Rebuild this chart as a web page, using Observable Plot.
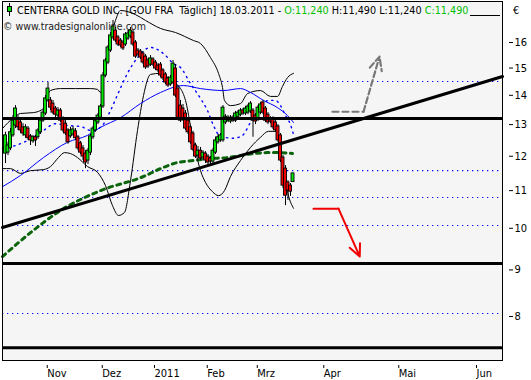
<!DOCTYPE html>
<html><head><meta charset="utf-8">
<script src="https://cdn.jsdelivr.net/npm/d3@7"></script>
<script src="https://cdn.jsdelivr.net/npm/@observablehq/plot@0.6"></script>
<style>body{margin:0;background:#fff}#chart{width:531px;height:380px}</style>
</head><body><div id="chart"></div>
<script>
// Daily bars (bar index 0..115), Centerra Gold, Frankfurt
const open = [12.08,12.11,12.24,12.65,12.97,13.20,13.07,12.91,12.65,12.87,12.62,12.46,12.59,12.59,12.75,13.13,13.37,13.82,
13.82,13.71,13.54,13.30,13.47,13.20,13.03,12.81,12.62,12.68,12.78,12.59,12.40,12.24,12.08,11.87,12.11,12.59,12.81,13.07,13.23,
13.61,14.72,15.21,15.68,16.21,16.49,16.21,16.08,16.00,15.92,16.16,16.25,16.41,16.00,15.68,15.64,15.56,15.44,15.29,15.13,
15.33,15.21,15.09,15.13,14.91,14.76,14.61,14.39,14.46,14.98,14.24,13.64,13.54,13.37,13.13,12.91,12.71,12.33,12.02,12.17,
11.96,
12.08,11.99,11.93,11.84,12.11,12.43,12.49,12.49,13.07,13.13,13.10,13.23,13.13,13.26,13.33,13.47,13.37,13.40,13.44,
13.47,13.30,13.16,13.40,13.75,13.54,13.33,13.20,13.20,13.07,12.94,12.65,11.96,11.63,11.23,11.14,11.24];
const close = [12.65,12.33,12.75,13.13,13.54,12.91,12.81,12.71,12.91,12.56,12.49,12.59,12.49,12.81,13.13,13.40,13.89,14.24,
13.57,13.40,13.33,13.47,13.13,12.81,12.71,12.43,12.81,12.84,12.56,12.24,12.11,11.99,11.81,12.17,12.62,12.87,13.13,13.30,13.61,
14.72,15.29,15.80,16.29,16.66,16.08,15.92,15.88,15.76,16.33,16.37,16.49,15.92,15.44,15.52,15.40,15.21,15.02,15.06,15.37,
15.13,14.98,14.91,14.72,14.61,14.46,14.35,14.64,15.17,13.99,13.23,13.13,13.20,12.87,12.75,12.43,12.20,11.99,12.17,11.93,
12.11,
11.87,11.81,11.84,12.17,12.49,12.59,12.65,13.57,13.26,13.23,13.23,13.13,13.37,13.40,13.47,13.37,13.54,13.61,13.71,
13.13,13.10,13.57,13.68,13.40,13.13,13.07,13.10,12.91,12.81,12.49,11.87,11.14,10.86,11.00,10.97,11.49];
const high = [12.75,12.43,12.87,13.30,13.64,13.30,13.20,13.03,13.00,12.94,12.68,12.65,12.65,12.87,13.20,13.47,13.99,14.46,
13.92,13.82,13.61,13.57,13.54,13.26,13.13,12.87,12.91,12.94,12.87,12.65,12.46,12.33,12.17,12.24,12.68,12.94,13.20,13.37,13.68,
14.83,15.37,15.88,16.41,16.92,16.62,16.29,16.16,16.08,16.41,16.49,16.62,16.53,16.08,15.76,15.72,15.64,15.52,15.37,15.48,
15.40,15.29,15.17,15.21,14.98,14.83,14.68,14.72,15.29,15.13,14.35,13.82,13.68,13.47,13.20,12.97,12.78,12.40,12.30,12.27,
12.17,
12.14,12.05,11.99,12.24,12.59,12.68,12.71,13.64,13.33,13.30,13.30,13.30,13.44,13.47,13.54,13.54,13.61,13.68,13.78,
13.54,13.37,13.64,13.75,13.82,13.61,13.40,13.26,13.26,13.13,13.00,12.71,12.02,11.72,11.28,11.20,11.49];
const low = [11.78,12.02,12.17,12.59,12.87,12.81,12.71,12.62,12.56,12.49,12.33,12.40,12.30,12.52,12.68,13.07,13.30,13.75,
13.47,13.33,13.23,13.20,13.07,12.75,12.65,12.37,12.56,12.62,12.49,12.17,12.05,11.87,11.63,11.75,12.02,12.52,12.75,13.00,13.16,
13.54,14.64,15.13,15.60,16.12,16.00,15.84,15.80,15.68,15.84,16.08,16.16,15.84,15.37,15.44,15.33,15.13,14.95,14.98,15.06,
15.06,14.91,14.83,14.64,14.53,14.39,14.28,14.32,14.39,13.92,13.13,13.07,13.10,12.81,12.68,12.37,12.14,11.93,11.96,11.87,
11.90,
11.78,11.72,11.75,11.78,12.05,12.37,12.43,12.43,13.00,13.07,13.03,13.07,13.07,13.20,13.26,13.30,13.30,13.33,13.37,
12.59,13.00,13.10,13.33,13.33,13.07,13.00,13.03,12.84,12.75,12.43,11.81,11.06,10.59,10.73,10.84,11.24];

// Indicators: [bar index, price]
const bbUpper = [[-1.2,12.87],[3.2,13.23],[6,13.37],[11.2,13.40],[15.2,13.54],[16.8,13.99],[18,14.17],[22,14.24],[28,14.24],[34,14.24],[36.8,14.21],[38,14.10],[40,15.09],[42,16.16],[44,16.92],[46,17.35],[52,17.17],[56,16.92],[62,16.58],[68,16.41],[75.2,16.08],[78,15.96],[82,15.40],[85.2,14.80],[86.8,14.28],[87.6,13.82],[90,13.64],[94,13.71],[96.8,14.06],[102,14.17],[106,13.96],[108.8,13.96],[110.8,14.32],[112.8,14.64],[115.2,14.80]];
const bbLower = [[-1.2,11.63],[2,11.63],[6,11.49],[10,11.57],[15.2,11.60],[18,11.69],[21.2,11.96],[23.6,12.11],[26,12.08],[28.8,11.96],[32.8,11.69],[36.8,11.52],[40,11.14],[42.8,10.59],[45.2,10.33],[47.6,10.41],[50,11.28],[52.8,12.81],[55.2,13.99],[58,14.76],[62,14.80],[66,14.53],[70,14.24],[72,13.82],[74,12.97],[76,12.17],[78,11.57],[80,11.23],[82.8,10.97],[85.2,10.86],[87.6,11.00],[90,11.40],[94,11.87],[98,12.27],[102,12.59],[105.2,12.78],[108,12.78],[110,12.17],[111.6,11.43],[113.2,10.86],[115.2,10.52]];
const bbMiddle = [[-1.2,12.24],[4,12.33],[11.2,12.59],[15.2,12.81],[20,13.03],[24.8,12.97],[30,12.94],[34,12.81],[38,12.91],[42,13.47],[45.2,14.10],[48.8,14.80],[52.8,15.40],[58,15.80],[63.2,15.56],[67.2,15.17],[70,15.02],[74,14.42],[78,13.89],[80.8,13.47],[83.2,12.97],[86,12.62],[91.2,12.56],[94.8,12.65],[98,13.07],[102,13.54],[105.2,13.82],[108,13.82],[110,13.64],[112,13.30],[114,13.00],[115.2,12.68]];
const maBlue = [[-1.2,11.11],[6,11.43],[15.2,11.96],[24.8,12.43],[32.8,12.65],[38,12.91],[46,13.23],[54,13.71],[62,14.10],[71.2,14.35],[78,14.24],[87.2,14.17],[94,14.24],[98,14.10],[103.2,13.82],[108.8,13.57],[112.8,13.30],[115.2,13.07]];
const maGreen = [[-1.2,9.31],[10,9.89],[22,10.46],[38,11.00],[55.2,11.40],[62,11.63],[68.8,11.81],[75.2,11.87],[82,11.93],[88.8,11.96],[94,12.02],[99.2,12.08],[104.8,12.11],[110,12.11],[114.8,12.08]];

// Analyst drawings
const dottedLevels = [14.50, 11.57, 10.81, 10.07, 8.06];
const solidLevels = [13.20, 9.15, 7.39];
const trendLine = [[-1.2,10.02],[198.8,14.68]];
const greyPath = [[130.8,13.43],[143.2,13.43]];
const greyArrow = [[143.2,13.43],[149.6,15.44]];
const redPath = [[123.2,10.51],[133.2,10.51]];
const redArrow = [[133.2,10.51],[141.7,9.31]];

// Axes
const yTicks = [8,9,10,11,12,13,14,15,16];
const xTickPos = [16.7,38.7,59.6,80.7,100.7,127.3,157.3,188.4];
const xTickLabels = ["Nov","Dez","2011","Feb","Mrz","Apr","Mai","Jun"];

const FONT = "'DejaVu Sans Condensed','DejaVu Sans',sans-serif";
const n = Math.min(open.length, close.length, high.length, low.length);
const candles = d3.range(n).map(i => ({i, o: open[i], h: high[i], l: low[i], c: close[i]}));
const pts = a => a.map(([x, y]) => ({x, y}));
const seg = a => [{x1: a[0][0], y1: a[0][1], x2: a[1][0], y2: a[1][1]}];

const chart = Plot.plot({
  width: 531, height: 380,
  marginLeft: 2, marginRight: 29, marginTop: 1, marginBottom: 20,
  style: {fontFamily: FONT, fontSize: "11px", background: "white", color: "black", overflow: "visible"},
  x: {domain: [-1.2, 198.8], axis: null},
  y: {type: "log", domain: [7.157, 17.75], axis: null},
  color: {type: "identity"},
  marks: [
    Plot.frame({fill: "#f5f5f5", stroke: null}),
    Plot.ruleY(dottedLevels, {stroke: "#0000ff", strokeWidth: 1.1, strokeDasharray: "1.3,3.7"}),
    Plot.line(pts(maGreen), {x: "x", y: "y", stroke: "#0b640b", strokeWidth: 3, strokeDasharray: "4,4.5", curve: "monotone-x"}),
    Plot.line(pts(bbUpper), {x: "x", y: "y", stroke: "black", strokeWidth: 1, curve: "monotone-x"}),
    Plot.line(pts(bbLower), {x: "x", y: "y", stroke: "black", strokeWidth: 1, curve: "monotone-x"}),
    Plot.line(pts(maBlue), {x: "x", y: "y", stroke: "#0000ff", strokeWidth: 1, curve: "monotone-x"}),
    Plot.line(pts(bbMiddle), {x: "x", y: "y", stroke: "#0000ff", strokeWidth: 1.4, strokeDasharray: "1.3,4.5", curve: "monotone-x"}),
    Plot.ruleX(candles, {x: "i", y1: "l", y2: "h", stroke: "black", strokeWidth: 1}),
    Plot.rect(candles, {x1: d => d.i - 0.6, x2: d => d.i + 0.6, y1: "o", y2: "c",
      fill: d => d.c >= d.o ? "#00e600" : "#f00000", stroke: "black", strokeWidth: 0.9}),
    Plot.ruleY(solidLevels, {stroke: "black", strokeWidth: 3}),
    Plot.line(pts(trendLine), {x: "x", y: "y", stroke: "black", strokeWidth: 3}),
    Plot.line(pts(greyPath), {x: "x", y: "y", stroke: "#777", strokeWidth: 2.2, strokeDasharray: "6,4"}),
    Plot.arrow(seg(greyArrow), {x1: "x1", y1: "y1", x2: "x2", y2: "y2", stroke: "#777", strokeWidth: 2.2, strokeDasharray: "6,3", headLength: 10, headAngle: 50}),
    Plot.line(pts(redPath), {x: "x", y: "y", stroke: "#f00000", strokeWidth: 2}),
    Plot.arrow(seg(redArrow), {x1: "x1", y1: "y1", x2: "x2", y2: "y2", stroke: "#f00000", strokeWidth: 2, headLength: 10, headAngle: 50}),
    Plot.frame({stroke: "black", strokeWidth: 1}),
    Plot.axisY(yTicks, {anchor: "right", tickSize: 4, dx: 6, tickPadding: 2, tickFormat: d => String(d)}),
    Plot.axisX(xTickPos, {anchor: "bottom", tickSize: 3, dy: 5, tickPadding: 1, textAnchor: "start",
      tickFormat: d => xTickLabels[xTickPos.indexOf(d)]})
  ]
});
document.getElementById("chart").appendChild(chart);

// Header texts drawn into the same SVG
const svg = d3.select(chart);
const g = svg.append("g").attr("font-family", FONT).attr("font-size", 11).attr("text-anchor", "start");
g.append("line").attr("x1", 9.5).attr("x2", 9.5).attr("y1", 3).attr("y2", 16).attr("stroke", "black");
g.append("rect").attr("x", 7.5).attr("y", 6.5).attr("width", 4).attr("height", 5).attr("fill", "#00e600").attr("stroke", "black");
const headerParts = [
  ["CENTERRA GOLD INC. [GOU FRA  Täglich] 18.03.2011 - ", "black"],
  ["O:11,240 ", "#00c000"],
  ["H:11,490 L:11,240 ", "black"],
  ["C:11,490", "#00c000"]
];
const ht = g.append("text").attr("style", "white-space:pre").attr("text-anchor", "start");
headerParts.forEach(([s, col]) => ht.append("tspan").attr("fill", col).text(s));
const hw = ht.node().getComputedTextLength();
ht.attr("transform", `translate(17,14) scale(${452 / hw},1)`);
g.append("line").attr("x1", 470).attr("x2", 500).attr("y1", 15.5).attr("y2", 15.5).attr("stroke", "black");
const ct = g.append("text").attr("fill", "#222").attr("text-anchor", "start").text("© www.tradesignalonline.com");
const cw = ct.node().getComputedTextLength();
ct.attr("transform", `translate(3,30) scale(${143 / cw},1)`);
g.append("text").attr("x", 513).attr("y", 14).attr("text-anchor", "start").text("€");
</script>
</body></html>
